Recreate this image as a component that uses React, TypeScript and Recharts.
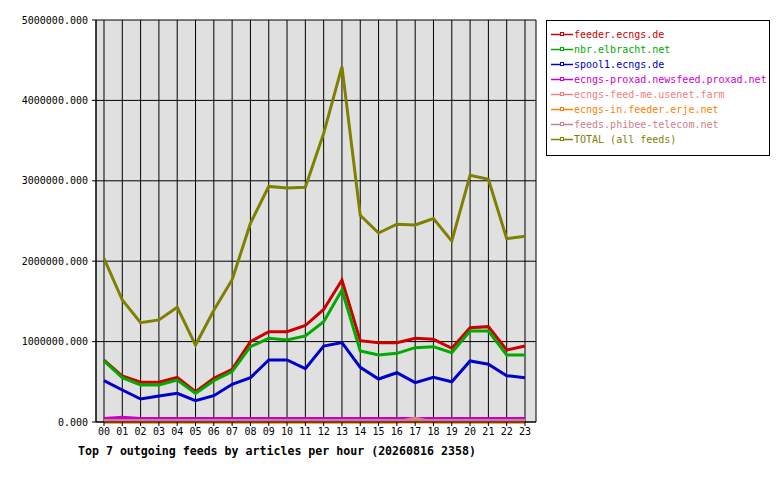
import React from 'react'
import { LineChart, Line, XAxis, YAxis, CartesianGrid } from 'recharts'

const hours = ['00', '01', '02', '03', '04', '05', '06', '07', '08', '09', '10', '11', '12', '13', '14', '15', '16', '17', '18', '19', '20', '21', '22', '23']

const feederEcngs = [770000, 572000, 494000, 494000, 556000, 377000, 543000, 655000, 999000, 1123000, 1123000, 1200000, 1400000, 1766000, 1011000, 987000, 987000, 1041000, 1028000, 917000, 1173000, 1186000, 896000, 945000]
const nbrElbracht = [759000, 551000, 460000, 460000, 522000, 357000, 514000, 626000, 937000, 1041000, 1020000, 1070000, 1248000, 1642000, 883000, 833000, 854000, 925000, 937000, 862000, 1132000, 1132000, 833000, 833000]
const spool1Ecngs = [514000, 398000, 286000, 323000, 357000, 265000, 327000, 469000, 551000, 771000, 771000, 663000, 945000, 987000, 680000, 535000, 613000, 489000, 556000, 501000, 759000, 718000, 576000, 551000]
const proxad = [45000, 58000, 45000, 45000, 45000, 45000, 45000, 45000, 45000, 45000, 45000, 45000, 45000, 45000, 45000, 45000, 45000, 45000, 45000, 45000, 45000, 45000, 45000, 45000]
const feedMe = [0, 0, 0, 0, 0, 0, 0, 0, 0, 0, 0, 0, 0, 0, 0, 0, 0, 46000, 0, 0, 0, 0, 0, 0]
const erje = [0, 0, 0, 0, 0, 0, 0, 0, 0, 0, 0, 0, 0, 0, 0, 0, 0, 0, 0, 0, 0, 0, 0, 0]
const phibee = [18000, 18000, 18000, 18000, 18000, 18000, 18000, 18000, 18000, 18000, 18000, 18000, 18000, 18000, 18000, 18000, 18000, 18000, 18000, 18000, 18000, 18000, 18000, 18000]
const total = [2036000, 1517000, 1235000, 1270000, 1428000, 957000, 1390000, 1770000, 2470000, 2930000, 2910000, 2920000, 3590000, 4420000, 2570000, 2350000, 2460000, 2450000, 2530000, 2250000, 3070000, 3020000, 2280000, 2310000]

const yTicks = [0, 1000000, 2000000, 3000000, 4000000, 5000000]

const series = [
  { key: 'feeder', name: 'feeder.ecngs.de', color: '#cc0000', values: feederEcngs },
  { key: 'nbr', name: 'nbr.elbracht.net', color: '#00aa00', values: nbrElbracht },
  { key: 'spool1', name: 'spool1.ecngs.de', color: '#0000cc', values: spool1Ecngs },
  { key: 'proxad', name: 'ecngs-proxad.newsfeed.proxad.net', color: '#cc00cc', values: proxad },
  { key: 'feedme', name: 'ecngs-feed-me.usenet.farm', color: '#f08080', values: feedMe },
  { key: 'erje', name: 'ecngs-in.feeder.erje.net', color: '#ff8000', values: erje },
  { key: 'phibee', name: 'feeds.phibee-telecom.net', color: '#cc7f8f', values: phibee },
  { key: 'total', name: 'TOTAL (all feeds)', color: '#808000', values: total },
]

const data = hours.map((h, i) => {
  const row: Record<string, string | number> = { hour: h }
  series.forEach(s => { row[s.key] = s.values[i] })
  return row
})

const mono = '"DejaVu Sans Mono", monospace'

export default function App() {
  return (
    <div style={{ position: 'absolute', left: 0, top: 0, width: 780, height: 480, background: '#fff', fontFamily: mono }}>
      <LineChart width={780} height={480} data={data} margin={{ top: 20, right: 244, left: 0, bottom: 38 }}>
        <CartesianGrid stroke="#000" strokeOpacity={1} fill="#e0e0e0" fillOpacity={1} />
        <XAxis
          dataKey="hour"
          interval={0}
          height={20}
          padding={{ left: 8, right: 11 }}
          tick={{ fontSize: 10, fill: '#000', fontFamily: mono }}
          tickSize={4}
          tickMargin={2}
          tickLine={{ stroke: '#000' }}
          axisLine={{ stroke: '#000' }}
        />
        <YAxis
          width={96}
          domain={[0, 5000000]}
          ticks={yTicks}
          interval={0}
          tickFormatter={(v: number) => v.toFixed(3)}
          tick={{ fontSize: 10, fill: '#000', fontFamily: mono }}
          tickSize={4}
          tickMargin={4}
          tickLine={{ stroke: '#000' }}
          axisLine={{ stroke: '#000' }}
        />
        <YAxis
          yAxisId="right"
          orientation="right"
          width={0}
          domain={[0, 5000000]}
          tick={false}
          tickLine={false}
          axisLine={{ stroke: '#000' }}
        />
        {series.map(s => (
          <Line
            key={s.key}
            dataKey={s.key}
            name={s.name}
            type="linear"
            stroke={s.color}
            strokeWidth={3}
            dot={false}
            isAnimationActive={false}
          />
        ))}
      </LineChart>
      <div style={{ position: 'absolute', left: 546, top: 20, width: 222, height: 128, border: '1px solid #000', background: '#fff', paddingTop: 6, boxSizing: 'content-box' }}>
        {series.map(s => (
          <div key={s.key} style={{ display: 'flex', alignItems: 'center', height: 15, fontSize: 10, color: s.color, whiteSpace: 'nowrap' }}>
            <svg width={27} height={15} style={{ flex: 'none' }}>
              <line x1={4} y1={7.5} x2={26} y2={7.5} stroke={s.color} strokeWidth={1.5} />
              <rect x={13.5} y={5.5} width={3} height={3} fill="#fff" stroke={s.color} strokeWidth={1} />
            </svg>
            <span>{s.name}</span>
          </div>
        ))}
      </div>
      <div style={{ position: 'absolute', left: 78, top: 444, fontSize: 11.6, fontWeight: 'bold', color: '#000', whiteSpace: 'nowrap' }}>
        Top 7 outgoing feeds by articles per hour (20260816 2358)
      </div>
    </div>
  )
}
